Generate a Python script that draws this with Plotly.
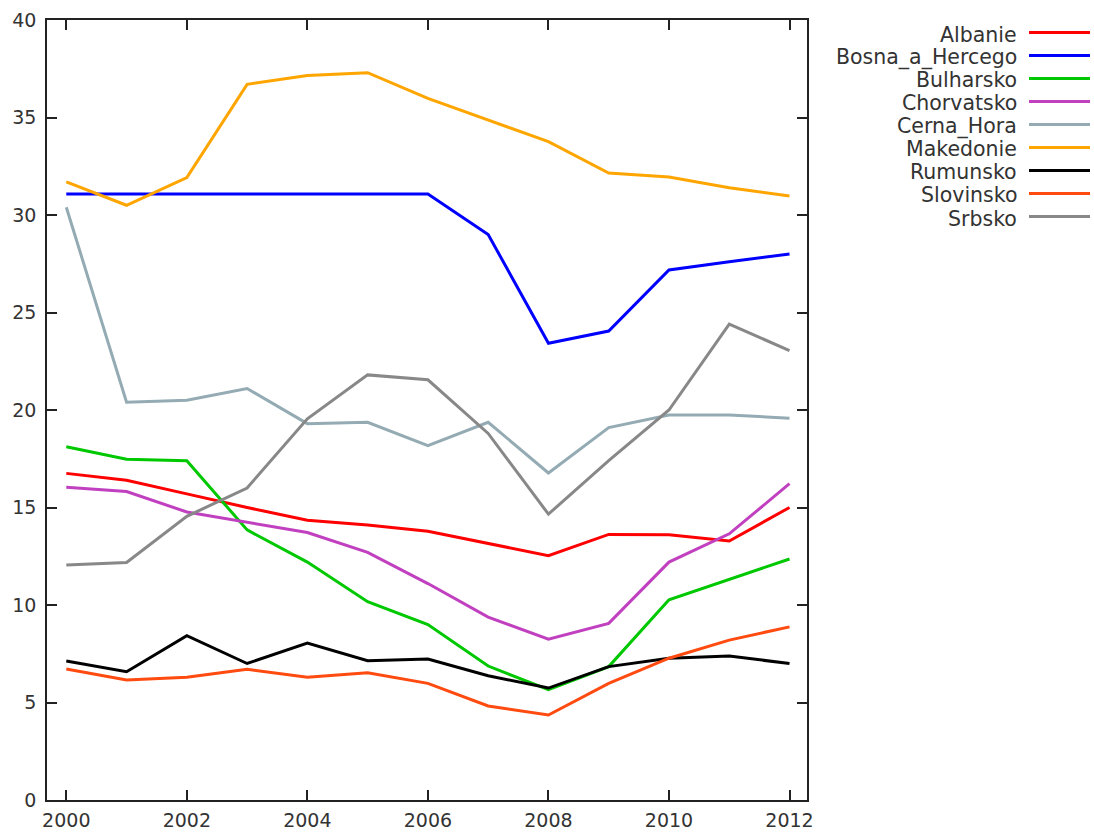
import plotly.graph_objects as go

years = list(range(2000, 2013))

countries = ["Albanie", "Bosna_a_Hercego", "Bulharsko", "Chorvatsko", "Cerna_Hora",
             "Makedonie", "Rumunsko", "Slovinsko", "Srbsko"]

albanie = [16.75, 16.4, 15.7, 15.0, 14.35, 14.1, 13.78, 13.16, 12.53, 13.62, 13.6, 13.28, 15.0]
bosna = [31.08, 31.08, 31.08, 31.08, 31.08, 31.08, 31.08, 29.0, 23.42, 24.05, 27.18, 27.6, 28.0]
bulharsko = [18.12, 17.48, 17.4, 13.85, 12.2, 10.17, 9.0, 6.87, 5.66, 6.84, 10.27, 11.3, 12.36]
chorvatsko = [16.04, 15.82, 14.77, 14.23, 13.72, 12.7, 11.1, 9.38, 8.25, 9.06, 12.2, 13.65, 16.22]
cerna_hora = [30.4, 20.4, 20.5, 21.1, 19.3, 19.37, 18.17, 19.37, 16.77, 19.1, 19.74, 19.74, 19.58]
makedonie = [31.7, 30.5, 31.92, 36.7, 37.15, 37.3, 35.98, 34.87, 33.76, 32.15, 31.95, 31.4, 30.98]
rumunsko = [7.13, 6.58, 8.43, 7.0, 8.05, 7.14, 7.23, 6.37, 5.74, 6.84, 7.27, 7.38, 7.0]
slovinsko = [6.72, 6.15, 6.29, 6.7, 6.29, 6.52, 5.98, 4.82, 4.36, 5.98, 7.27, 8.2, 8.88]
srbsko = [12.05, 12.18, 14.55, 16.0, 19.55, 21.8, 21.55, 18.8, 14.66, 17.4, 20.0, 24.4, 23.05]

series = [albanie, bosna, bulharsko, chorvatsko, cerna_hora, makedonie, rumunsko, slovinsko, srbsko]
colors = ["#ff0000", "#0000ff", "#00c800", "#c040c0", "#94abb4",
          "#ffa500", "#000000", "#ff4a10", "#888888"]

x_ticks = [2000, 2002, 2004, 2006, 2008, 2010, 2012]
y_ticks = [0, 5, 10, 15, 20, 25, 30, 35, 40]

FONT = "DejaVu Sans"
TXT = "#333333"
W, H = 1094, 834
L, R, T, B = 47, 287, 20, 34

fig = go.Figure()
for name, vals, col in zip(countries, series, colors):
    fig.add_trace(go.Scatter(x=years, y=vals, mode="lines", name=name,
                             line=dict(color=col, width=3), showlegend=False))

# Legend at the right: label right-aligned, line sample to its right
plot_w = W - L - R
plot_h = H - T - B
row0 = 32.5
step = 23.0
for i, (name, col) in enumerate(zip(countries, colors)):
    ypix = row0 + i * step
    yp = (H - B - ypix) / plot_h
    fig.add_annotation(x=(1019 - L) / plot_w, y=(H - B - ypix - 2) / plot_h,
                       xref="paper", yref="paper",
                       text=name, showarrow=False, xanchor="right", yanchor="middle",
                       font=dict(family=FONT, size=20.5, color=TXT))
    fig.add_shape(type="line", xref="paper", yref="paper",
                  x0=(1029 - L) / plot_w, x1=(1090 - L) / plot_w, y0=yp, y1=yp,
                  line=dict(color=col, width=3))

axis_common = dict(showgrid=False, zeroline=False, showline=True, linecolor="#222222",
                   linewidth=1.5, ticks="inside", ticklen=10, tickwidth=1.5,
                   tickcolor="#222222", mirror="ticks", automargin=False,
                   tickfont=dict(family=FONT, size=19, color=TXT))

fig.update_xaxes(range=[1999.68, 2012.29], tickvals=x_ticks,
                 ticktext=[str(v) for v in x_ticks], ticklabelstandoff=2, **axis_common)
fig.update_yaxes(range=[0, 40], tickvals=y_ticks,
                 ticktext=[str(v) for v in y_ticks], ticklabelstandoff=5, **axis_common)

fig.update_layout(width=W, height=H, margin=dict(l=L, r=R, t=T, b=B),
                  paper_bgcolor="white", plot_bgcolor="white",
                  font=dict(family=FONT, color=TXT))

fig.write_html("out.html")
